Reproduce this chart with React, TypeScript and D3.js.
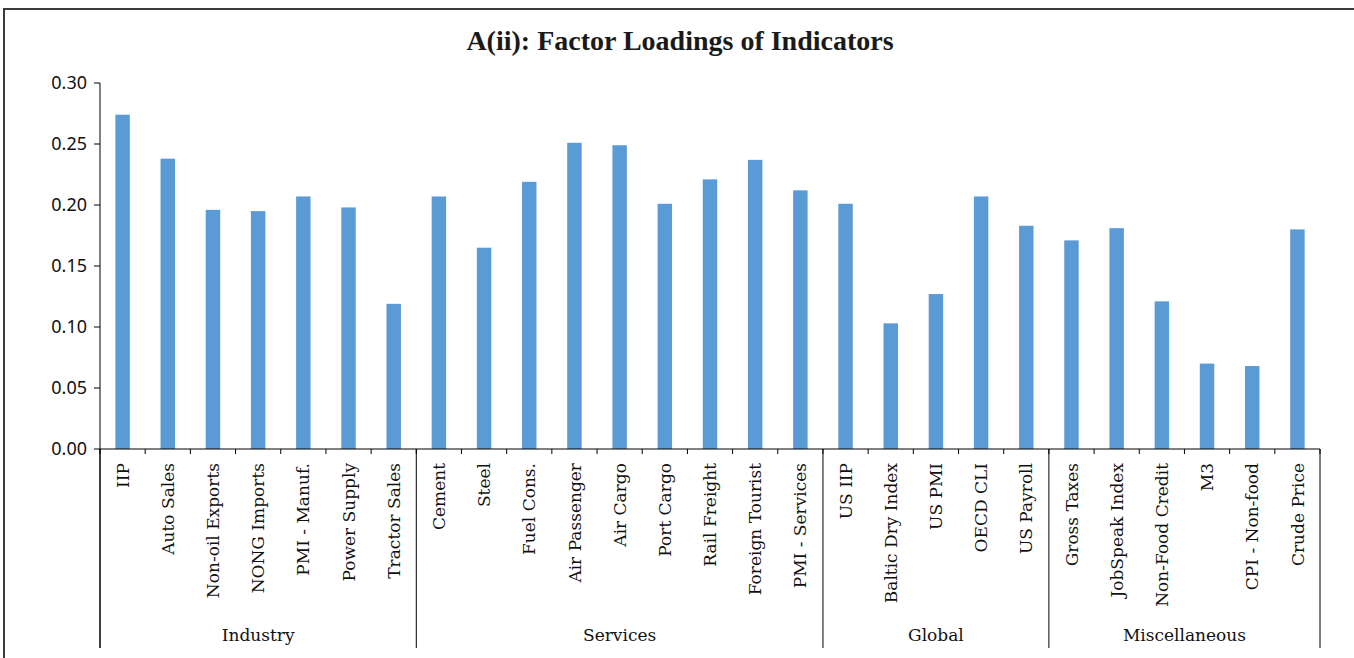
import React from "react";
import * as d3 from "d3";

// indicator names, grouped
const categories = [
  "IIP", "Auto Sales", "Non-oil Exports", "NONG Imports", "PMI - Manuf.", "Power Supply", "Tractor Sales",
  "Cement", "Steel", "Fuel Cons.", "Air Passenger", "Air Cargo", "Port Cargo", "Rail Freight", "Foreign Tourist", "PMI - Services",
  "US IIP", "Baltic Dry Index", "US PMI", "OECD CLI", "US Payroll",
  "Gross Taxes", "JobSpeak Index", "Non-Food Credit", "M3", "CPI - Non-food", "Crude Price",
];

const loadings = [
  0.274, 0.238, 0.196, 0.195, 0.207, 0.198, 0.119,
  0.207, 0.165, 0.219, 0.251, 0.249, 0.201, 0.221, 0.237, 0.212,
  0.201, 0.103, 0.127, 0.207, 0.183,
  0.171, 0.181, 0.121, 0.070, 0.068, 0.180,
];

const groupNames = ["Industry", "Services", "Global", "Miscellaneous"];
const groupSizes = [7, 9, 5, 6];

const yTicks = [0, 0.05, 0.1, 0.15, 0.2, 0.25, 0.3];

const W = 1354;
const H = 658;
const left = 100;
const right = 1320;
const top = 83;
const base = 449;
const bottom = 648;

const App: React.FC = () => {
  const x = d3.scaleBand<string>().domain(categories).range([left, right]).padding(0);
  const y = d3.scaleLinear().domain([0, 0.3]).range([base, top]);
  const step = x.step();
  const barW = step * 0.32;

  // group boundaries in index terms (plain array, cumsum gives a typed array)
  const starts: number[] = Array.from(d3.cumsum([0, ...groupSizes]));
  const edgeX = (i: number) => left + i * step;

  return (
    <svg
      width={W}
      height={H}
      style={{ position: "absolute", left: 0, top: 0, background: "#fff" }}
    >
      <rect x={4} y={9} width={W + 20} height={H + 20} fill="#fff" stroke="#3c3c3c" strokeWidth={2} />

      <text
        x={680}
        y={50}
        textAnchor="middle"
        fontFamily="Liberation Serif"
        fontWeight="bold"
        fontSize={28}
        fill="#1a1a1a"
      >
        A(ii): Factor Loadings of Indicators
      </text>

      {/* bars */}
      {categories.map((c, i) => (
        <rect
          key={c}
          x={x(c)! + step / 2 - barW / 2}
          y={y(loadings[i])}
          width={barW}
          height={y(0) - y(loadings[i])}
          fill="#5B9BD5"
        />
      ))}

      {/* y axis */}
      <line x1={left} x2={left} y1={top} y2={bottom} stroke="#000" strokeWidth={1} />
      {yTicks.map((t) => (
        <g key={t}>
          <line x1={left - 6} x2={left} y1={y(t)} y2={y(t)} stroke="#000" />
          <text
            x={left - 13}
            y={y(t)}
            dy="0.36em"
            textAnchor="end"
            fontFamily="Noto Sans"
            fontSize={18}
            fill="#111"
          >
            {d3.format(".2f")(t)}
          </text>
        </g>
      ))}

      {/* x axis */}
      <line x1={left} x2={right} y1={base} y2={base} stroke="#000" />
      {d3.range(categories.length + 1).map((i) => (
        <line key={i} x1={edgeX(i)} x2={edgeX(i)} y1={base} y2={base + 5} stroke="#000" />
      ))}
      {starts.map((s, i) => (
        <line key={"sep" + i} x1={edgeX(s)} x2={edgeX(s)} y1={base} y2={bottom} stroke="#000" />
      ))}

      {categories.map((c) => (
        <text
          key={"lab" + c}
          transform={`translate(${x(c)! + step / 2},463) rotate(-90)`}
          dy="0.36em"
          textAnchor="end"
          fontFamily="DejaVu Serif"
          fontSize={17}
          fill="#111"
        >
          {c}
        </text>
      ))}

      {groupNames.map((g, i) => (
        <text
          key={g}
          x={(edgeX(starts[i]) + edgeX(starts[i + 1])) / 2}
          y={641}
          textAnchor="middle"
          fontFamily="DejaVu Serif"
          fontSize={17}
          fill="#111"
        >
          {g}
        </text>
      ))}
    </svg>
  );
};

export default App;
